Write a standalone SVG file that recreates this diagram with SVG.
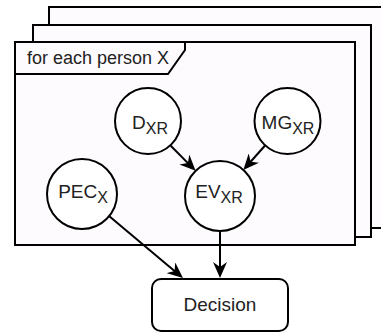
<svg xmlns="http://www.w3.org/2000/svg" width="381" height="332" viewBox="0 0 381 332">
<defs>
<style>
.frame{fill:#fefbfe;stroke:#000;stroke-width:2}
.node{fill:#fff;stroke:#000;stroke-width:2}
.edge{fill:none;stroke:#000;stroke-width:2}
.lbl{font-family:"Liberation Sans",Arial,sans-serif;font-size:19px;fill:#222;text-anchor:middle}
.sub{font-size:16px}
.title{font-family:"Liberation Sans",Arial,sans-serif;font-size:18px;fill:#222}
</style>
<marker id="arr" viewBox="0 0 16 14" refX="10" refY="7" markerWidth="16" markerHeight="14" markerUnits="userSpaceOnUse" orient="auto">
<path d="M0,0 L16,7 L0,14 L5,7 Z" fill="#000"/>
</marker>
</defs>
<rect width="381" height="332" fill="#fff"/>
<g id="frame-back"><rect class="frame" x="49" y="7" width="360" height="221"/></g>
<g id="frame-middle"><rect class="frame" x="33" y="25" width="338" height="212"/></g>
<g id="frame-front">
<rect class="frame" x="15" y="42" width="340" height="203"/>
<path class="frame" d="M15,42 L185,42 L185,50 L168,74 L15,74 Z"/>
<text class="title" x="27" y="64">for each person X</text>
</g>
<g id="connectors">
<line class="edge" x1="170" y1="145" x2="191.4" y2="166.6" marker-end="url(#arr)"/>
<line class="edge" x1="265.5" y1="145" x2="247.3" y2="165.5" marker-end="url(#arr)"/>
<line class="edge" x1="109" y1="216" x2="178.4" y2="274.2" marker-end="url(#arr)"/>
<line class="edge" x1="220" y1="231" x2="220" y2="272" marker-end="url(#arr)"/>
</g>
<g id="node-D"><circle class="node" cx="148" cy="121" r="33"/><text class="lbl" x="150" y="129">D<tspan class="sub" dy="5">XR</tspan></text></g>
<g id="node-MG"><circle class="node" cx="287.5" cy="121" r="33"/><text class="lbl" x="288" y="129">MG<tspan class="sub" dy="5">XR</tspan></text></g>
<g id="node-PEC"><circle class="node" cx="82" cy="194" r="35"/><text class="lbl" x="83" y="198">PEC<tspan class="sub" dy="5">X</tspan></text></g>
<g id="node-EV"><circle class="node" cx="220" cy="196" r="35"/><text class="lbl" x="219" y="198">EV<tspan class="sub" dy="5">XR</tspan></text></g>
<g id="node-Decision"><rect class="node" x="152" y="279" width="136" height="52" rx="9"/><text class="lbl" x="220" y="311">Decision</text></g>
</svg>
